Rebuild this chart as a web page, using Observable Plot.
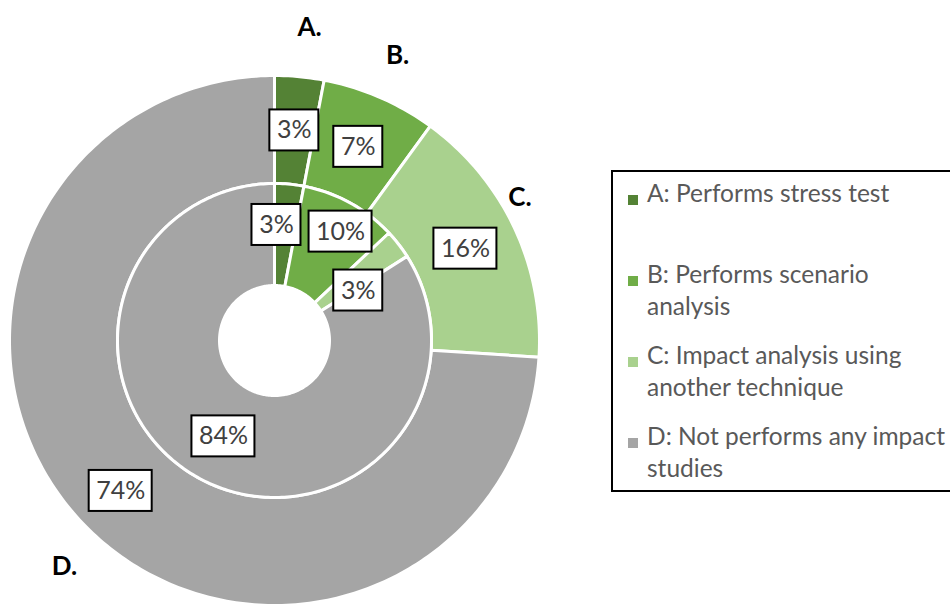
<!DOCTYPE html>
<html>
<head>
<meta charset="utf-8">
<script src="https://cdn.jsdelivr.net/npm/d3@7"></script>
<script src="https://cdn.jsdelivr.net/npm/@observablehq/plot@0.6"></script>
<style>
  html, body { margin: 0; padding: 0; background: #fff; overflow: hidden; width: 950px; height: 604px; }
  #chart { position: relative; width: 950px; height: 604px; font-family: Lato, "Open Sans", sans-serif; }
  #chart svg { display: block; }
  #legend { position: absolute; left: 611px; top: 170px; width: 380px; height: 322px; border: 2px solid #000; box-sizing: border-box; }
  .item { position: absolute; left: 0; }
  .swatch { position: absolute; left: 15px; top: 18px; width: 10px; height: 10px; }
  .ltext { position: absolute; left: 34px; top: 0; white-space: nowrap; font-size: 24.5px; line-height: 32px; color: #595959; }
</style>
</head>
<body>
<div id="chart"></div>
<script>
// ---- data ----
const categories = ["A", "B", "C", "D"];
const categoryTags = ["A.", "B.", "C.", "D."];
const legendLines = [
  ["A: Performs stress test"],
  ["B: Performs scenario", "analysis"],
  ["C: Impact analysis using", "another technique"],
  ["D: Not performs any impact", "studies"]
];
const innerValues = [3, 10, 3, 84];
const outerValues = [3, 7, 16, 74];
const colors = ["#548235", "#70AD47", "#A9D18E", "#A5A5A5"];

// ---- layout / style (pixel units around the pie centre) ----
const CX = 274, CY = 340, W = 950, H = 604;
const rings = { inner: [55, 157], outer: [157, 265] };
const tagRadius = 310;
const innerNudge = [[-8, -10], [15, -16], [0, 15], [0, 3]];
const outerNudge = [[0, 0], [0, 0], [0, -2], [0, 6]];
const tagNudge = [[6, -4], [0, 0], [-35, -11], [16, 14]];

function segments(values, ring) {
  const [r0, r1] = rings[ring];
  const total = d3.sum(values);
  const pts = [], mids = [];
  let acc = 0;
  values.forEach((v, i) => {
    const a0 = acc / total * 2 * Math.PI; acc += v;
    const a1 = acc / total * 2 * Math.PI;
    const n = Math.max(2, Math.ceil((a1 - a0) / (Math.PI / 180)));
    const key = ring + i;
    for (let k = 0; k <= n; k++) { const a = a0 + (a1 - a0) * k / n; pts.push({ key, cat: categories[i], x: r1 * Math.sin(a), y: r1 * Math.cos(a) }); }
    for (let k = n; k >= 0; k--) { const a = a0 + (a1 - a0) * k / n; pts.push({ key, cat: categories[i], x: r0 * Math.sin(a), y: r0 * Math.cos(a) }); }
    mids.push({ i, v, am: (a0 + a1) / 2, rm: (r0 + r1) / 2 });
  });
  return { pts, mids };
}

const inner = segments(innerValues, "inner");
const outer = segments(outerValues, "outer");

function labelRows(mids, nudge) {
  return mids.map(m => {
    const text = m.v + "%";
    return {
      text,
      x: m.rm * Math.sin(m.am) + nudge[m.i][0],
      y: m.rm * Math.cos(m.am) - nudge[m.i][1],
      w: 21 + 14 * text.length
    };
  });
}
const labels = [...labelRows(outer.mids, outerNudge), ...labelRows(inner.mids, innerNudge)];
const tags = outer.mids.map(m => ({
  text: categoryTags[m.i],
  x: tagRadius * Math.sin(m.am) + tagNudge[m.i][0],
  y: tagRadius * Math.cos(m.am) - tagNudge[m.i][1]
}));

const plot = Plot.plot({
  width: W, height: H,
  margin: 0,
  x: { domain: [-CX, W - CX], range: [0, W], axis: null },
  y: { domain: [CY - H, CY], range: [H, 0], axis: null },
  color: { domain: categories, range: colors },
  style: { fontFamily: "Lato, 'Open Sans', sans-serif", background: "white" },
  marks: [
    Plot.line([...outer.pts, ...inner.pts], { x: "x", y: "y", z: "key", fill: "cat", stroke: "white", strokeWidth: 3, curve: "linear-closed" }),
    Plot.rect(labels, { x1: d => d.x - d.w / 2, x2: d => d.x + d.w / 2, y1: d => d.y - 20.5, y2: d => d.y + 20.5, fill: "white", stroke: "black", strokeWidth: 2 }),
    Plot.text(labels, { x: "x", y: "y", text: "text", fontSize: 25, fill: "#404040" }),
    Plot.text(tags, { x: "x", y: "y", text: "text", fontSize: 26, fontWeight: "bold", fill: "black" })
  ]
});

const chart = document.getElementById("chart");
chart.appendChild(plot);

const legend = document.createElement("div");
legend.id = "legend";
const itemTops = [5, 86, 167, 248];
categories.forEach((c, i) => {
  const item = document.createElement("div");
  item.className = "item";
  item.style.top = itemTops[i] + "px";
  const sw = document.createElement("div");
  sw.className = "swatch";
  sw.style.background = colors[i];
  const t = document.createElement("div");
  t.className = "ltext";
  t.innerHTML = legendLines[i].join("<br>");
  item.appendChild(sw); item.appendChild(t);
  legend.appendChild(item);
});
chart.appendChild(legend);
</script>
</body>
</html>
